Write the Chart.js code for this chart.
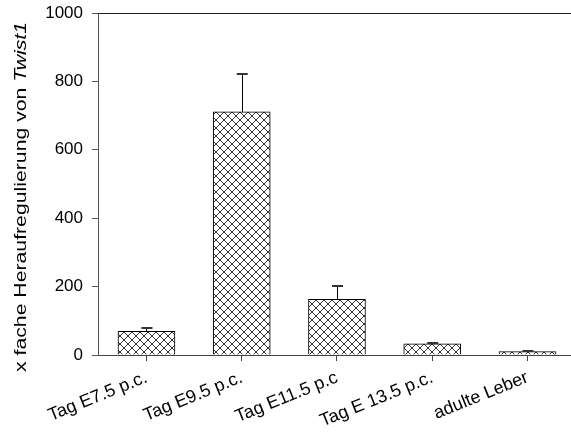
<!DOCTYPE html>
<html>
<head>
<meta charset="utf-8">
<script src="https://cdn.jsdelivr.net/npm/chart.js@4.4.1/dist/chart.umd.min.js"></script>
<style>
  html, body { margin: 0; padding: 0; background: #fff; overflow: hidden; }
  canvas { display: block; }
</style>
</head>
<body>
<canvas id="c" width="571" height="433"></canvas>
<script>
// ---- data ----
const categories = ["Tag E7.5 p.c.", "Tag E9.5 p.c.", "Tag E11.5 p.c", "Tag E 13.5 p.c.", "adulte Leber"];
const values = [69, 711, 163, 33, 10];
const errors = [10, 111, 39, 3, 3];
const yTicks = [0, 200, 400, 600, 800, 1000];
const yTitle = "x fache Heraufregulierung von ";
const yTitleItalic = "Twist1";

// ---- hatch pattern ----
function makeHatch() {
  const p = 8;
  const c = document.createElement('canvas');
  c.width = p; c.height = p;
  const g = c.getContext('2d');
  g.fillStyle = '#fff';
  g.fillRect(0, 0, p, p);
  g.strokeStyle = '#333';
  g.lineWidth = 1;
  g.beginPath();
  for (let k = -1; k <= 1; k++) {
    g.moveTo(k * p, 0); g.lineTo(k * p + p, p);
    g.moveTo(k * p + p, 0); g.lineTo(k * p, p);
  }
  g.stroke();
  return g.createPattern(c, 'repeat');
}
const hatch = makeHatch();

const errorBars = {
  id: 'errorBars',
  afterDatasetsDraw(chart) {
    const { ctx, scales: { x, y } } = chart;
    ctx.save();
    values.forEach((v, i) => {
      const px = x.getPixelForValue(i);
      const y0 = y.getPixelForValue(v);
      const y1 = y.getPixelForValue(v + errors[i]);
      ctx.strokeStyle = '#000';
      ctx.lineWidth = 1;
      ctx.beginPath();
      ctx.moveTo(Math.round(px) + 0.5, y0);
      ctx.lineTo(Math.round(px) + 0.5, y1);
      ctx.stroke();
      ctx.strokeStyle = '#333';
      ctx.lineWidth = 2;
      ctx.beginPath();
      ctx.moveTo(px - 5, Math.round(y1));
      ctx.lineTo(px + 6, Math.round(y1));
      ctx.stroke();
    });
    ctx.restore();
  }
};

const frameTop = {
  id: 'frameTop',
  afterDraw(chart) {
    const { ctx, chartArea } = chart;
    ctx.save();
    ctx.strokeStyle = '#222';
    ctx.lineWidth = 1;
    ctx.beginPath();
    ctx.moveTo(chartArea.left, Math.round(chartArea.top) + 0.5);
    ctx.lineTo(chartArea.right, Math.round(chartArea.top) + 0.5);
    ctx.stroke();
    ctx.restore();
  }
};

const yTitlePlugin = {
  id: 'yTitlePlugin',
  afterDraw(chart) {
    const { ctx } = chart;
    const normal = "16.5px 'Liberation Sans', Arial, sans-serif";
    const italic = "italic 16.5px 'Liberation Sans', Arial, sans-serif";
    ctx.save();
    ctx.fillStyle = '#000';
    ctx.textBaseline = 'alphabetic';
    ctx.textAlign = 'left';
    ctx.font = normal;
    const w1 = ctx.measureText(yTitle).width;
    ctx.font = italic;
    const w2 = ctx.measureText(yTitleItalic).width;
    const target = 350;
    const sx = target / (w1 + w2);
    ctx.translate(25.5, 372);
    ctx.rotate(-Math.PI / 2);
    ctx.scale(sx, 1);
    ctx.font = normal;
    ctx.fillText(yTitle, 0, 0);
    ctx.font = italic;
    ctx.fillText(yTitleItalic, w1, 0);
    ctx.restore();
  }
};

new Chart(document.getElementById('c'), {
  type: 'bar',
  data: {
    datasets: [{
      data: values.map((v, i) => ({ x: i, y: v })),
      backgroundColor: hatch,
      borderColor: '#000',
      borderWidth: 1,
      borderSkipped: 'bottom',
      barThickness: 57
    }]
  },
  options: {
    responsive: false,
    animation: false,
    devicePixelRatio: 1,
    layout: { padding: { top: 13, right: 0, left: 0, bottom: 0 } },
    plugins: { legend: { display: false }, tooltip: { enabled: false }, title: { display: false } },
    scales: {
      x: {
        type: 'linear',
        offset: false,
        min: -0.509,
        max: 4.457,
        afterBuildTicks: s => { s.ticks = categories.map((_, i) => ({ value: i })); },
        afterFit: s => { s.height = 78; },
        ticks: {
          callback: v => categories[v],
          minRotation: 22, maxRotation: 22,
          autoSkip: false,
          padding: 6,
          color: '#000',
          font: { family: "'Liberation Sans', Arial, sans-serif", size: 18 }
        },
        grid: { drawOnChartArea: false, drawTicks: true, tickLength: 6, color: '#444', offset: false },
        border: { color: '#444', width: 1 }
      },
      y: {
        min: 0, max: 1000,
        afterBuildTicks: s => { s.ticks = yTicks.map(v => ({ value: v })); },
        afterFit: s => { s.width = 98; s.paddingTop = 0; s.paddingBottom = 0; },
        ticks: {
          padding: 9,
          color: '#000',
          callback: v => String(v),
          font: { family: "'Liberation Sans', Arial, sans-serif", size: 17 }
        },
        grid: { drawOnChartArea: false, drawTicks: true, tickLength: 6, color: '#555' },
        border: { color: '#555', width: 1 }
      }
    }
  },
  plugins: [errorBars, frameTop, yTitlePlugin]
});
</script>
</body>
</html>
